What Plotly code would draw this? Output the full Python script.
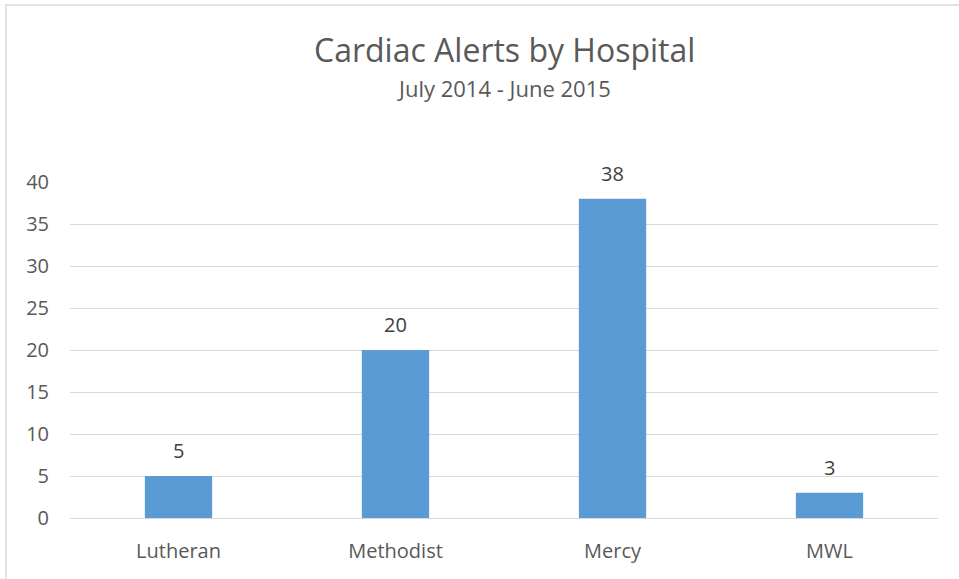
import plotly.graph_objects as go

hospitals = ["Lutheran", "Methodist", "Mercy", "MWL"]
alerts = [5, 20, 38, 3]
y_ticks = [0, 5, 10, 15, 20, 25, 30, 35, 40]

TEXT = "#595959"
GRID = "#d9d9d9"
FONT = "Open Sans"

fig = go.Figure(go.Bar(
    x=hospitals, y=alerts,
    marker=dict(color="#5b9bd5", line=dict(width=0)),
    hoverinfo="x+y",
))

# value labels above the bars
labels = [
    dict(x=h, y=v, text=str(v), xref="x", yref="y", showarrow=False,
         yanchor="bottom", yshift=10,
         font=dict(family=FONT, size=20, color="#404040"))
    for h, v in zip(hospitals, alerts)
]

fig.update_layout(
    width=959, height=579,
    paper_bgcolor="white", plot_bgcolor="white",
    margin=dict(l=70, r=21, t=182, b=61),
    bargap=0.69,
    showlegend=False,
    font=dict(family=FONT, color=TEXT),
    annotations=labels + [
        dict(text="Cardiac Alerts by Hospital", x=0.5, y=1.395, xref="paper", yref="paper",
             xanchor="center", yanchor="middle", showarrow=False,
             font=dict(family=FONT, size=32, color=TEXT)),
        dict(text="July 2014 - June 2015", x=0.5, y=1.28, xref="paper", yref="paper",
             xanchor="center", yanchor="middle", showarrow=False,
             font=dict(family=FONT, size=22, color=TEXT)),
    ],
    shapes=[
        dict(type="rect", xref="paper", yref="paper",
             x0=-0.0738, x1=1.3, y0=-0.4, y1=1.527,
             line=dict(color=GRID, width=1.5)),
    ],
)

fig.update_xaxes(
    showgrid=False, showline=False, ticks="",
    tickfont=dict(family=FONT, size=20, color=TEXT),
    ticklabelstandoff=19,
)
fig.update_yaxes(
    range=[0, 40], tickvals=y_ticks,
    showgrid=True, gridcolor=GRID, gridwidth=1.3,
    zeroline=True, zerolinecolor=GRID, zerolinewidth=1.3,
    showline=False, ticks="",
    tickfont=dict(family=FONT, size=20, color=TEXT),
    ticklabelstandoff=20,
)

# page has a default 8px body margin; remove it so the figure fills the window
fig.write_html("out.html", config={"displayModeBar": False},
               post_script="document.body.style.margin='0';")
